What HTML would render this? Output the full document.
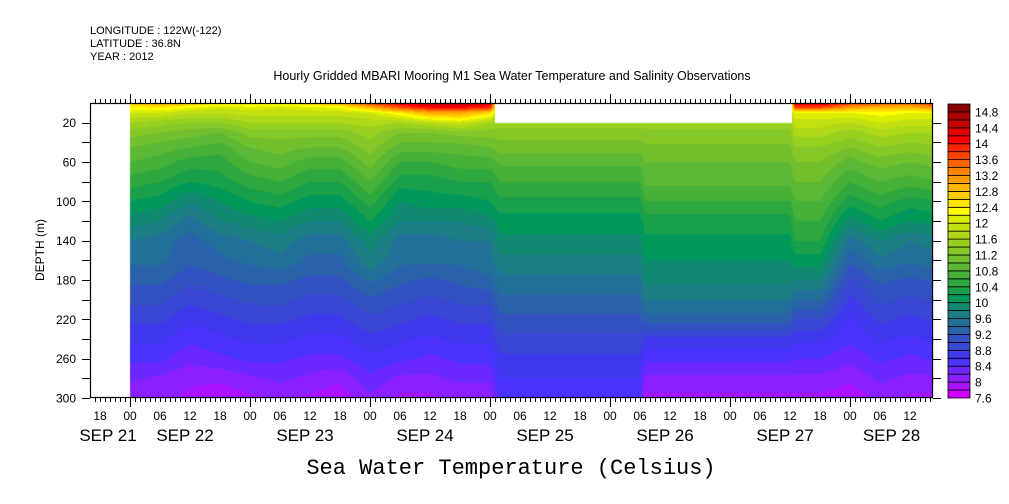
<!DOCTYPE html>
<html><head><meta charset="utf-8">
<style>
html,body{margin:0;padding:0;background:#fff;}
#wrap{position:relative;width:1009px;height:504px;overflow:hidden;font-family:"Liberation Sans",sans-serif;}
canvas{position:absolute;left:0;top:0;}
svg{position:absolute;left:0;top:0;}
</style></head>
<body>
<div id="wrap">
<canvas id="cv" width="1009" height="504"></canvas>
<svg id="sv" width="1009" height="504"></svg>
</div>
<script>
// ---- data ----
const depths = [0,5,10,20,30,45,60,80,100,120,140,160,180,200,220,240,260,280,300];
const times = [0,6,12,18,24,30,36,42,48,54,60,66,72,74,78,84,90,96,102,103,108,114,120,126,132,133,138,144,150,156,162]; // hours since SEP 22 00
const N = null;
const flat1 = [N,N,N,11.5,11.3,11.1,10.85,10.6,10.35,10.1,9.95,9.75,9.55,9.35,9.15,8.95,8.75,8.6,8.45];
const flat2 = [N,N,N,11.5,11.35,11.15,11.0,10.85,10.6,10.3,10.15,10.0,9.85,9.6,9.3,8.75,8.45,8.15,7.95];
const temps = [
 [12.7,12.3,12.0,11.6,11.3,11.0,10.8,10.5,10.2,9.9,9.6,9.45,9.25,9.05,8.85,8.65,8.45,8.25,8.05],
 [12.9,12.4,12.0,11.5,11.2,10.9,10.7,10.4,10.1,9.8,9.5,9.45,9.25,9.05,8.85,8.65,8.45,8.15,8.05],
 [12.7,12.2,11.8,11.4,11.1,10.8,10.5,10.2,9.8,9.5,9.3,9.25,9.05,8.85,8.65,8.45,8.25,8.05,7.95],
 [12.4,12.0,11.8,11.4,11.0,10.7,10.5,10.3,10.0,9.8,9.5,9.35,9.15,8.95,8.75,8.55,8.35,8.05,7.85],
 [12.5,12.1,11.9,11.6,11.3,11.0,10.8,10.5,10.2,9.9,9.6,9.45,9.25,9.05,8.85,8.65,8.45,8.15,7.95],
 [12.4,12.0,11.9,11.6,11.3,11.1,10.9,10.6,10.3,10.0,9.7,9.55,9.25,9.05,8.85,8.65,8.45,8.25,8.05],
 [12.6,12.1,11.9,11.6,11.3,11.0,10.7,10.4,10.1,9.8,9.5,9.35,9.15,8.95,8.75,8.55,8.35,8.15,7.95],
 [12.8,12.2,11.9,11.6,11.3,11.0,10.7,10.4,10.1,9.8,9.5,9.35,9.15,8.95,8.75,8.55,8.35,8.05,7.85],
 [13.8,12.8,12.0,11.7,11.5,11.3,11.1,10.8,10.5,10.2,9.9,9.75,9.45,9.15,8.95,8.75,8.55,8.35,8.15],
 [14.2,13.6,12.4,11.6,11.2,10.9,10.6,10.3,10.0,9.8,9.5,9.45,9.25,9.05,8.85,8.65,8.45,8.15,7.95],
 [14.5,14.0,13.0,11.8,11.2,10.9,10.6,10.3,10.1,9.8,9.5,9.45,9.15,8.95,8.75,8.55,8.35,8.15,7.95],
 [14.5,14.0,13.0,12.0,11.3,10.9,10.7,10.4,10.1,9.8,9.6,9.45,9.25,9.05,8.85,8.65,8.45,8.25,8.05],
 [14.4,13.8,12.6,11.6,11.3,11.0,10.7,10.4,10.2,9.9,9.6,9.55,9.35,9.05,8.85,8.65,8.45,8.25,8.05],
 flat1, flat1, flat1, flat1, flat1, flat1,
 flat2, flat2, flat2, flat2, flat2, flat2,
 [14.4,13.6,12.2,11.9,11.7,11.4,11.2,11.0,10.8,10.6,10.4,10.1,9.8,9.4,9.0,8.65,8.4,8.15,7.95],
 [14.4,13.6,12.2,11.9,11.7,11.4,11.2,11.0,10.8,10.6,10.4,10.1,9.8,9.4,9.0,8.65,8.4,8.15,7.95],
 [13.8,13.0,12.2,11.8,11.5,11.2,10.9,10.6,10.3,9.9,9.5,9.25,8.95,8.75,8.55,8.45,8.25,8.05,7.85],
 [13.6,12.8,12.3,12.0,11.7,11.4,11.1,10.8,10.5,10.2,9.8,9.55,9.25,9.05,8.85,8.65,8.45,8.25,8.05],
 [13.4,12.8,12.2,11.9,11.6,11.3,11.0,10.7,10.3,10.0,9.6,9.45,9.15,8.95,8.75,8.55,8.35,8.15,7.95],
 [14.0,13.2,12.2,11.9,11.6,11.4,11.1,10.8,10.4,10.1,9.7,9.55,9.25,9.05,8.85,8.65,8.45,8.15,7.95]
];
const levelMin = 7.6, levelStep = 0.2;
const levelColors = ["#d000ff","#a812ff","#8a20ff","#6a28ff","#4a32ff","#4038ec","#3a46d4","#3252c2","#2a62aa","#22709a","#1a7e84","#108870","#00985a","#1aa04a","#30a840","#46b038","#5cb834","#72c02e","#86c828","#98d020","#aed818","#c4e010","#dcee00","#ffff00","#ffe400","#ffcc00","#ffb400","#ff9c00","#ff8400","#ff6400","#ff4400","#ff2400","#ff0000","#e00000","#c40000","#a80000","#880000"];
const cbLabels = ["7.6","8","8.4","8.8","9.2","9.6","10","10.4","10.8","11.2","11.6","12","12.4","12.8","13.2","13.6","14","14.4","14.8"];
const timeTickLabels = ["18","00","06","12","18","00","06","12","18","00","06","12","18","00","06","12","18","00","06","12","18","00","06","12","18","00","06","12"];
const dateLabels = ["SEP 21","SEP 22","SEP 23","SEP 24","SEP 25","SEP 26","SEP 27","SEP 28"];
const depthTicks = [20,60,100,140,180,220,260,300];

// ---- axes ----
const PL=90, PR=933, PT=103, PB=398;
const T0=-8, T1=160.6, D0=0, D1=300;
const xOf = t => PL + (t-T0)/(T1-T0)*(PR-PL);
const tOf = x => T0 + (x-PL)/(PR-PL)*(T1-T0);
const yOf = d => PT + (d-D0)/(D1-D0)*(PB-PT);
const dOf = y => D0 + (y-PT)/(PB-PT)*(D1-D0);
const CBL=948, CBR=970, CBT=104, CBB=398;
const vMax = levelMin + levelStep*levelColors.length;
const cbY = v => CBB - (v-levelMin)/(vMax-levelMin)*(CBB-CBT);

function hex(c){return [parseInt(c.slice(1,3),16),parseInt(c.slice(3,5),16),parseInt(c.slice(5,7),16)];}
const rgb = levelColors.map(hex);

function firstVal(a,k){while(a[k]===null && k<a.length-1)k++;return a[k];}
function sample(t,d){
  if (t < times[0]) return null;
  let i = 0; while (i < times.length-2 && t > times[i+1]) i++;
  const ft = Math.min(1, Math.max(0,(t-times[i])/(times[i+1]-times[i])));
  let j = 0; while (j < depths.length-2 && d > depths[j+1]) j++;
  const fd = Math.min(1, Math.max(0,(d-depths[j])/(depths[j+1]-depths[j])));
  const near = ft < 0.5 ? temps[i] : temps[i+1];
  if (near[0] === null && d < 20) return null;
  const A=temps[i], B=temps[i+1];
  const v0 = firstVal(A,j)*(1-fd)+firstVal(A,j+1)*fd;
  const v1 = firstVal(B,j)*(1-fd)+firstVal(B,j+1)*fd;
  return v0*(1-ft)+v1*ft;
}
function colorIdx(v){let k=Math.floor((v-levelMin)/levelStep+1e-9);return Math.max(0,Math.min(levelColors.length-1,k));}

// ---- field ----
const cv=document.getElementById('cv'), ctx=cv.getContext('2d');
const img=ctx.createImageData(PR-PL, PB-PT);
for(let y=PT;y<PB;y++){
  const d=dOf(y+0.5);
  for(let x=PL;x<PR;x++){
    const v=sample(tOf(x+0.5),d);
    const p=((y-PT)*(PR-PL)+(x-PL))*4;
    if(v===null){img.data[p]=255;img.data[p+1]=255;img.data[p+2]=255;}
    else{const c=rgb[colorIdx(v)];img.data[p]=c[0];img.data[p+1]=c[1];img.data[p+2]=c[2];}
    img.data[p+3]=255;
  }
}
ctx.putImageData(img,PL,PT);

// ---- svg ----
const sv=document.getElementById('sv');
const NS='http://www.w3.org/2000/svg';
function mk(tag,attrs,parent){const e=document.createElementNS(NS,tag);for(const k in attrs)e.setAttribute(k,attrs[k]);(parent||sv).appendChild(e);return e;}
function txt(s,x,y,size,anchor,fam,parent){const e=mk('text',{x:x,y:y,'font-size':size,'text-anchor':anchor||'start','font-family':fam||'"Liberation Sans",sans-serif',fill:'#000'},parent);e.textContent=s;return e;}

const hdr=mk('g',{});


txt('LONGITUDE : 122W(-122)',90,34,11,'start',null,hdr);
txt('LATITUDE : 36.8N',90,47,11,'start',null,hdr);
txt('YEAR : 2012',90,60,11,'start',null,hdr);
const ttl=txt('Hourly Gridded MBARI Mooring M1 Sea Water Temperature and Salinity Observations',512,80,12.5,'middle');



const fr=mk('rect',{x:PL+0.5,y:PT+0.5,width:PR-PL-1,height:PB-PT-1,fill:'none',stroke:'#000','stroke-width':1.2});



const xt=mk('g',{stroke:'#000','stroke-width':1});


for(let h=-7;h<=160;h++){
  const x=Math.round(xOf(h))+0.5;
  const major=((h%24)+24)%24===0;
  mk('line',{x1:x,y1:PT,x2:x,y2:PT-(major?9:4)},xt);
  mk('line',{x1:x,y1:PB,x2:x,y2:PB+(major?9:4)},xt);
}
const xl=mk('g',{});


timeTickLabels.forEach((s,i)=>{txt(s,xOf(-6+6*i),420,12,'middle',null,xl);});
const dl=mk('g',{});


dateLabels.forEach((s,i)=>{
  const a=Math.max(PL,xOf(-24+24*i)), b=Math.min(PR,xOf(24*i));
  let cx = i===0 ? 108 : (i===dateLabels.length-1 ? (a+b)/2 : a+55);
  txt(s,cx,441,17,'middle',null,dl);
});

const yt=mk('g',{stroke:'#000','stroke-width':1});


for(let d=20;d<=300;d+=20){
  const y=Math.round(yOf(d))+0.5;
  mk('line',{x1:PL,y1:y,x2:PL-8,y2:y},yt);
  mk('line',{x1:PR,y1:y,x2:PR+8,y2:y},yt);
}
const yl=mk('g',{});


depthTicks.forEach(d=>txt(String(d),76,yOf(d)+4.5,12,'end',null,yl));
const yti=txt('DEPTH (m)',0,0,12,'middle');
yti.setAttribute('transform','translate(44,250) rotate(-90)');



const cb=mk('g',{});


levelColors.forEach((c,i)=>{
  const y1=cbY(levelMin+levelStep*(i+1)), y0=cbY(levelMin+levelStep*i);
  const r=mk('rect',{x:CBL,y:y1,width:CBR-CBL,height:y0-y1,fill:c,stroke:'#000','stroke-width':0.8},cb);
  
  
});
cbLabels.forEach(s=>{txt(s,975,cbY(parseFloat(s))+4.5,12,'start',null,cb);});

const bt=txt('Sea Water Temperature (Celsius)',511,474,22,'middle','"Liberation Mono",monospace');


</script>
</body></html>
